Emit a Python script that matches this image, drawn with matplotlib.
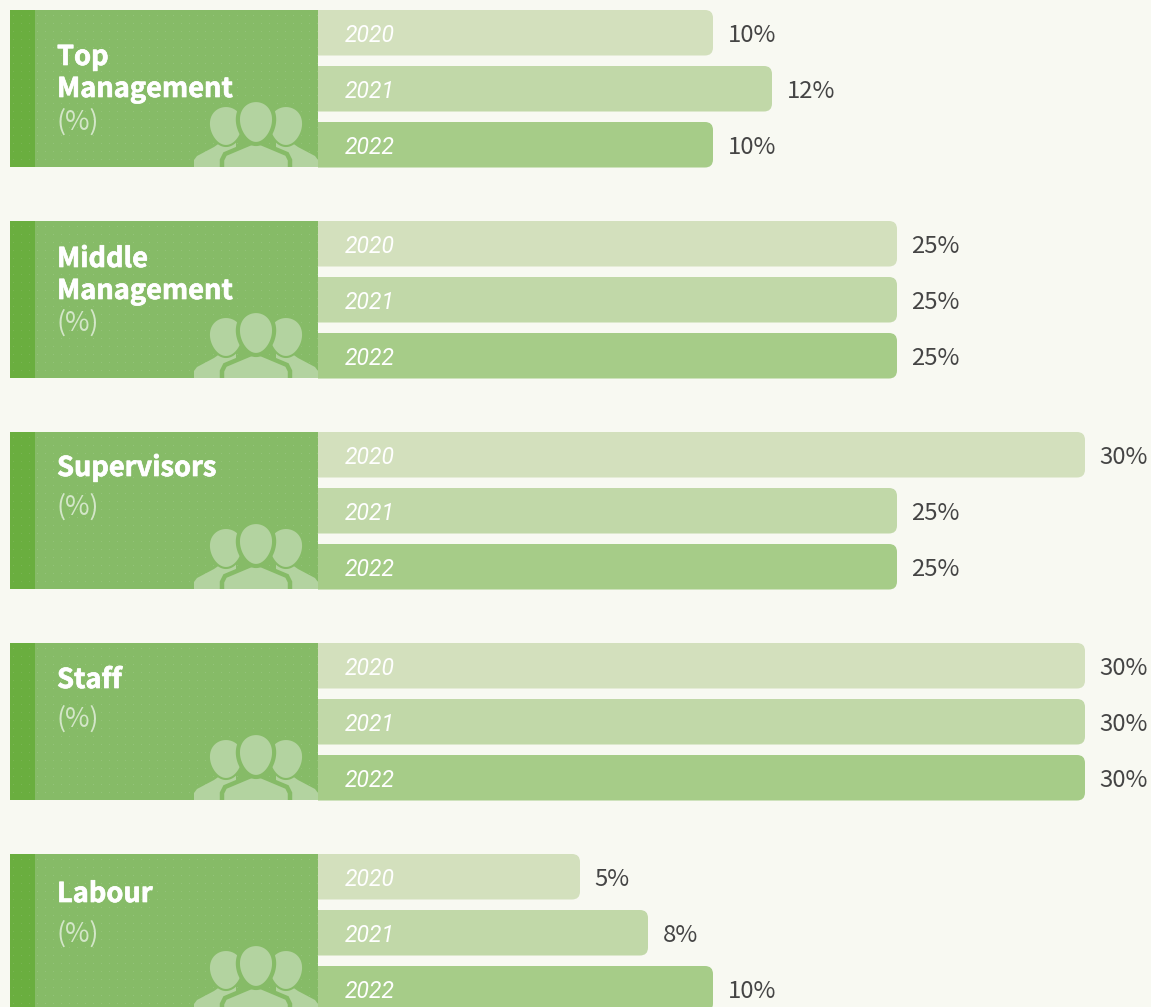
import matplotlib
matplotlib.use('Agg')
import matplotlib.pyplot as plt
import matplotlib.patheffects as pe
import numpy as np
from matplotlib.patches import Rectangle, Polygon, FancyBboxPatch
from matplotlib.transforms import IdentityTransform

plt.rcParams['font.family'] = ['Noto Sans CJK SC', 'Noto Sans', 'DejaVu Sans']

categories = ['Top\nManagement', 'Middle\nManagement', 'Supervisors', 'Staff', 'Labour']
years = ['2020', '2021', '2022']
values_2020 = [10, 25, 30, 30, 5]
values_2021 = [12, 25, 25, 30, 8]
values_2022 = [10, 25, 25, 30, 10]

# bar lengths in the layout don't grow linearly with the value
scale_values = [0, 5, 8, 10, 12, 25, 30, 32]
scale_widths = [0, 262, 330, 395, 454, 579, 767, 833]

W, H = 1151, 1007
BG = '#F8F9F2'
BAR_COLORS = ['#D3E0BD', '#C1D8A8', '#A6CC88']
PANEL = '#86BB67'
STRIP = '#6AAE3F'
ICON = '#B3D3A0'
TEXT = '#454545'

panel_tops = [10, 221, 432, 643, 854]
title_baselines = [65, 267, 476, 688, 902]
unit_baselines = [130, 331, 515, 727, 942]
PANEL_H = 157


def forward(v):
    return np.interp(v, scale_values, scale_widths)


def inverse(w):
    return np.interp(w, scale_widths, scale_values)


def egg(cx, cy, w, h):
    # head outline, a little narrower towards the chin
    t = np.linspace(0, 2 * np.pi, 80)
    x = cx + w / 2 * np.cos(t) * (1 - 0.12 * np.sin(t))
    y = cy + h / 2 * np.sin(t)
    return np.column_stack([x, y])


def draw_people(ax, panel, top):
    # y is relative to the panel top, front figure goes on last with a halo
    def add(points, lw=0.0, zorder=3):
        pts = np.asarray(points, dtype=float) + [0, top]
        p = Polygon(pts, fc=ICON, ec=PANEL, lw=lw, zorder=zorder)
        ax.add_patch(p)
        p.set_clip_path(panel)

    add([(194, 165), (194, 150), (197, 146), (214, 137), (224, 130), (236, 130), (236, 165)])
    add([(318, 165), (318, 150), (315, 146), (298, 137), (288, 130), (276, 130), (276, 165)])
    add(egg(226, 116, 34, 40), lw=1.5)
    add(egg(286, 116, 34, 40), lw=1.5)
    add([(222, 165), (222, 150), (225, 144), (244, 136), (256, 131), (268, 136),
         (287, 144), (290, 150), (290, 165)], lw=3.2, zorder=4)
    add(egg(256, 112, 36, 44), lw=3.0, zorder=4)


fig = plt.figure(figsize=(W / 100, H / 100), dpi=100, facecolor=BG)

# pixel-space axes for the side panels
bg_ax = fig.add_axes([0, 0, 1, 1])
bg_ax.set_xlim(0, W)
bg_ax.set_ylim(H, 0)
bg_ax.axis('off')

dot_x = np.arange(13.5, 318, 8)
for top, label, title_y, unit_y in zip(panel_tops, categories, title_baselines, unit_baselines):
    panel = Rectangle((10, top), 308, PANEL_H, fc=PANEL, ec='none', zorder=1)
    bg_ax.add_patch(panel)
    bg_ax.add_patch(Rectangle((10, top), 25, PANEL_H, fc=STRIP, ec='none', zorder=2))
    # faint dot texture, one tint over the strip and one over the panel
    dot_y = np.arange(top + 5.5, min(top + PANEL_H, H), 8)
    xx, yy = np.meshgrid(dot_x, dot_y)
    dot_colors = np.where(xx.ravel() < 35, '#7CB657', '#97C57E')
    bg_ax.scatter(xx.ravel(), yy.ravel(), s=0.6, c=dot_colors, linewidths=0, zorder=2.5)

    draw_people(bg_ax, panel, top)
    for i, line in enumerate(label.split('\n')):
        bg_ax.text(57, title_y + 32 * i, line, color='white', fontsize=19.6, fontweight='bold',
                   va='baseline', ha='left', zorder=5,
                   path_effects=[pe.withStroke(linewidth=0.5, foreground='white')])
    bg_ax.text(57, unit_y, '(%)', color='#D3E6C8', fontsize=19.2, fontweight='light',
               va='baseline', ha='left', zorder=5)

# bars sit on their own axes, starting at the panel edge
ax = fig.add_axes([318 / W, 0, (W - 318) / W, 1])
ax.patch.set_alpha(0)
ax.set_xscale('function', functions=(forward, inverse))
ax.set_xlim(0, 32)
ax.set_ylim(H, 0)
ax.axis('off')

fig.canvas.draw()
for y_i, (vals, year, color) in enumerate(zip([values_2020, values_2021, values_2022], years, BAR_COLORS)):
    ys = [top + 56 * y_i for top in panel_tops]
    bars = ax.barh(ys, vals, height=45.5, align='edge', color=color, zorder=2)
    for bar, v, y in zip(bars, vals, ys):
        # round only the far end of the bar
        ext = bar.get_window_extent()
        clip = FancyBboxPatch((ext.x0 - 20, ext.y0), ext.width + 20, ext.height,
                              boxstyle='round,pad=0,rounding_size=8', transform=IdentityTransform())
        bar.set_clip_path(clip)
        bg_ax.text(345, y + 32, year, color='white', style='italic', fontsize=16.5,
                   family=['Roboto', 'DejaVu Sans'], fontweight='normal',
                   va='baseline', ha='left', zorder=6)
        x_end = 318 + forward(v)
        bg_ax.text(x_end + 14.5, y + 32, f'{v}%', color=TEXT, fontsize=17.2,
                   va='baseline', ha='left', zorder=6)

bg_ax.set_zorder(3)
ax.set_zorder(2)

fig.savefig('out.png', dpi=100, facecolor=BG)
